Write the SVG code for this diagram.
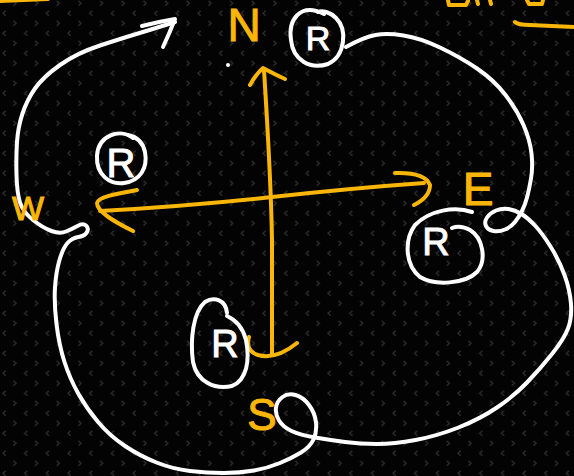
<svg xmlns="http://www.w3.org/2000/svg" width="574" height="476" viewBox="0 0 574 476">
<defs>
<pattern id="bg" x="0" y="0" width="21.67" height="20" patternUnits="userSpaceOnUse">
<path d="M5.6,10.8 L3,13.3 L5.6,15.8 M13.4,0.8 L16,3.3 L13.4,5.8" fill="none" stroke="#2c2c2c" stroke-width="1.4"/>
</pattern>
<style>
.w{fill:none;stroke:#ffffff;stroke-width:4;stroke-linecap:round;stroke-linejoin:round}
.o{fill:none;stroke:#f9b608;stroke-width:4;stroke-linecap:round;stroke-linejoin:round}
.rt{fill:#ffffff;stroke:#ffffff;stroke-width:1;font-family:"Liberation Sans",Arial,sans-serif;text-anchor:middle}
.lt{fill:#f9b608;stroke:#f9b608;stroke-width:1;font-family:"Liberation Sans",Arial,sans-serif;text-anchor:middle}
</style>
</defs>
<rect width="574" height="476" fill="#030303"/>
<rect width="574" height="476" fill="url(#bg)"/>

<g id="edge-strokes">
<path class="o" d="M0,1 L48,-1"/>
<path class="o" d="M448,0 L449,5 L466,5 L468,1 M477,0 L478,4 M490,0 L491,4 M527,0 L529,4 L542,4 L543,0"/>
<path class="o" d="M515,22 Q518,25 530,25 L574,27"/>
<circle cx="228" cy="65" r="2" fill="#ffffff"/>
</g>

<g id="connectors">
<path class="w" d="M175,22 Q153,29 138,33.5 Q123,38 100,45.5 Q77,53 60,65 Q43,77 35,88.5 Q27,100 22.5,113.5 Q18,127 17,142 Q16,157 16.5,175 Q17,193 20,202.5 Q23,212 33,220 Q43,228 51.5,231 Q60,234 66,231.5 Q72,229 77.5,226 Q83,223 86,225.5 Q89,228 87,232 Q85,236 78.5,237 Q72,238 67.5,243 Q63,248 59.5,260 Q56,272 55,287.5 Q54,303 56.5,324 Q59,345 64.5,362 Q70,379 78.5,394 Q87,409 98.5,422.5 Q110,436 125,446 Q140,456 156.5,462.5 Q173,469 190,471 Q207,473 223.5,473 Q240,473 254,470.5 Q268,468 280,463 Q292,458 301,452.5 Q310,447 313.5,439.5 Q317,432 316,422.5 Q315,413 309,405 Q303,397 295.5,395 Q288,393 282.5,397 Q277,401 276,407.5 Q275,414 279,420.5 Q283,427 291.5,431 Q300,435 315,437.5 Q330,440 345,442 Q360,444 377,444 Q394,444 415.5,440 Q437,436 458.5,427.5 Q480,419 497,407.5 Q514,396 527,382.5 Q540,369 552,354 Q564,339 568,328.5 Q572,318 571,304 Q570,290 564.5,275 Q559,260 550.5,246.5 Q542,233 535,225.5 Q528,218 521.5,214 Q515,210 508.5,209 Q502,208 496,210.5 Q490,213 487,217.5 Q484,222 486,226 Q488,230 493.5,231 Q499,232 505,229.5 Q511,227 515,222 Q519,217 522,211 Q525,205 527,197.5 Q529,190 531,178.5 Q533,167 531.5,153.5 Q530,140 523.5,125 Q517,110 505.5,95 Q494,80 477,68.5 Q460,57 440,47.5 Q420,38 403.5,35.5 Q387,33 375.5,35 Q364,37 346,47"/>
<path class="w" d="M142,26 Q157,22 175,19 Q170,32 163,47"/>
<path class="o" d="M264,70 Q271,180 272,240 L272,354"/>
<path class="o" d="M250,85 Q256,74 263,68 Q274,74 285,79"/>
<path class="o" d="M249,337 Q245,351 258,355 Q276,360 297,343"/>
<path class="o" d="M100,211 Q190,206 272,197 T424,183"/>
<path class="o" d="M137,190 C115,194 98,197 97,203 C97,212 115,222 133,231"/>
<path class="o" d="M395,173 Q425,172 430,185 Q430,197 414,205"/>
</g>

<g id="r-north">
<path class="w" d="M324,14 C300,2 288,20 291,40 C293,60 310,70 328,64 C345,56 348,30 336,18 C330,12 322,10 318,12"/>
<text class="rt" x="318" y="50" font-size="34">R</text>
</g>
<g id="r-west">
<path class="w" d="M133,138 C120,128 98,135 97,156 C96,175 110,185 124,183 C140,181 148,168 145,152 C143,143 138,137 128,135"/>
<text class="rt" x="121" y="177" font-size="40">R</text>
</g>
<g id="r-east">
<path class="w" d="M472,212 C455,206 430,210 415,225 C404,240 405,265 420,277 C435,286 465,284 477,272 C487,260 483,238 470,230 C463,226 457,226 452,228"/>
<text class="rt" x="436" y="255" font-size="38">R</text>
</g>
<g id="r-south">
<path class="w" d="M227,313 C226,300 214,296 205,302 C193,312 190,340 193,362 C197,382 215,390 232,386 C247,380 250,360 246,340 C243,328 236,320 227,316"/>
<text class="rt" x="225" y="357" font-size="38">R</text>
</g>

<g id="label-n"><text class="lt" x="244" y="41" font-size="46">N</text></g>
<g id="label-e"><text class="lt" x="478" y="205" font-size="46">E</text></g>
<g id="label-w"><text class="lt" x="28" y="220" font-size="34">W</text></g>
<g id="label-s"><text class="lt" x="262" y="430" font-size="44">S</text></g>
</svg>
